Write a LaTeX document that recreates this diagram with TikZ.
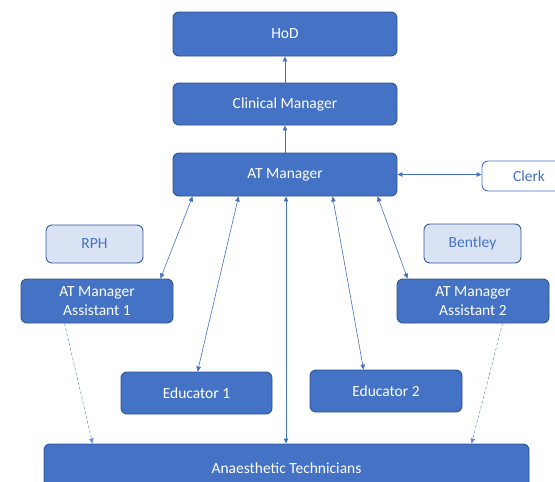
\documentclass[tikz,border=0pt]{standalone}
\usepackage{fontspec}
\setmainfont{Carlito}
\usetikzlibrary{arrows.meta}
\definecolor{fillblue}{HTML}{4472C4}
\definecolor{edgeblue}{HTML}{2F528F}
\definecolor{lightblue}{HTML}{DAE3F3}
\tikzset{
  box/.style={draw=edgeblue, line width=0.9pt, fill=fillblue, rounded corners=6pt,
    text=white, font=\fontsize{15.5}{18.5}\selectfont, align=center, inner sep=0pt},
  litebox/.style={draw=edgeblue!80!fillblue, line width=0.9pt, fill=lightblue, rounded corners=6pt,
    text=fillblue, font=\fontsize{15.5}{18.5}\selectfont, inner sep=0pt},
  whitebox/.style={draw=fillblue, line width=0.9pt, fill=white, rounded corners=6pt,
    text=fillblue, font=\fontsize{15.5}{18.5}\selectfont, inner sep=0pt},
  conn/.style={draw=fillblue, line width=0.6pt, -{Triangle[length=5pt,width=4.5pt]}},
  biconn/.style={draw=fillblue, line width=0.6pt, {Triangle[length=5pt,width=4.5pt]}-{Triangle[length=5pt,width=4.5pt]}},
  dconn/.style={draw=fillblue!80, line width=0.5pt, densely dashed, -{Triangle[length=5pt,width=4.5pt]}}
}
\begin{document}
\begin{tikzpicture}[x=1pt,y=-1pt]
\useasboundingbox (0,0) rectangle (555,482);
\clip (0,0) rectangle (555,482);
\node[box, minimum width=224pt, minimum height=44pt] (hod) at (285,34) {HoD};
\node[box, minimum width=224pt, minimum height=42pt] (cm) at (285,104) {Clinical Manager};
\node[box, minimum width=224pt, minimum height=43pt] (atm) at (285,174.5) {AT Manager};
\node[whitebox, minimum width=96pt, minimum height=30pt, text width=96pt, align=left] (clerk) at (530,176) {\hspace*{31pt}Clerk};
\node[litebox, minimum width=97pt, minimum height=38pt] (rph) at (94.5,244) {RPH};
\node[litebox, minimum width=97pt, minimum height=39pt] (bent) at (472.5,243.5) {Bentley};
\node[box, minimum width=152pt, minimum height=44pt] (as1) at (97,301) {AT Manager\\Assistant 1};
\node[box, minimum width=152pt, minimum height=44pt] (as2) at (473,301) {AT Manager\\Assistant 2};
\node[box, minimum width=151pt, minimum height=42pt] (ed1) at (196.5,393) {Educator 1};
\node[box, minimum width=152pt, minimum height=42pt] (ed2) at (386,391) {Educator 2};
\node[box, minimum width=485pt, minimum height=48pt] (at) at (286.5,468) {Anaesthetic Technicians};
% vertical chain
\draw[conn] (cm.north) -- (hod.south);
\draw[conn] (atm.north) -- (cm.south);
% clerk
\draw[biconn] (atm.east) -- (clerk.west |- atm.east);
% fan out
\draw[biconn] ([xshift=20pt]atm.south west) -- ([xshift=-13pt]as1.north east);
\draw[biconn] ([xshift=66pt]atm.south west) -- ([xshift=77pt]ed1.north west);
\draw[biconn] ([xshift=1pt]atm.south) -- ([xshift=1pt]atm.south |- at.north);
\draw[biconn] ([xshift=160pt]atm.south west) -- ([xshift=54pt]ed2.north west);
\draw[biconn] ([xshift=205pt]atm.south west) -- ([xshift=11pt]as2.north west);
% dashed
\draw[dconn] ([xshift=44pt]as1.south west) -- ([xshift=49pt]at.north west);
\draw[dconn] ([xshift=106pt]as2.south west) -- ([xshift=428pt]at.north west);
\end{tikzpicture}
\end{document}
